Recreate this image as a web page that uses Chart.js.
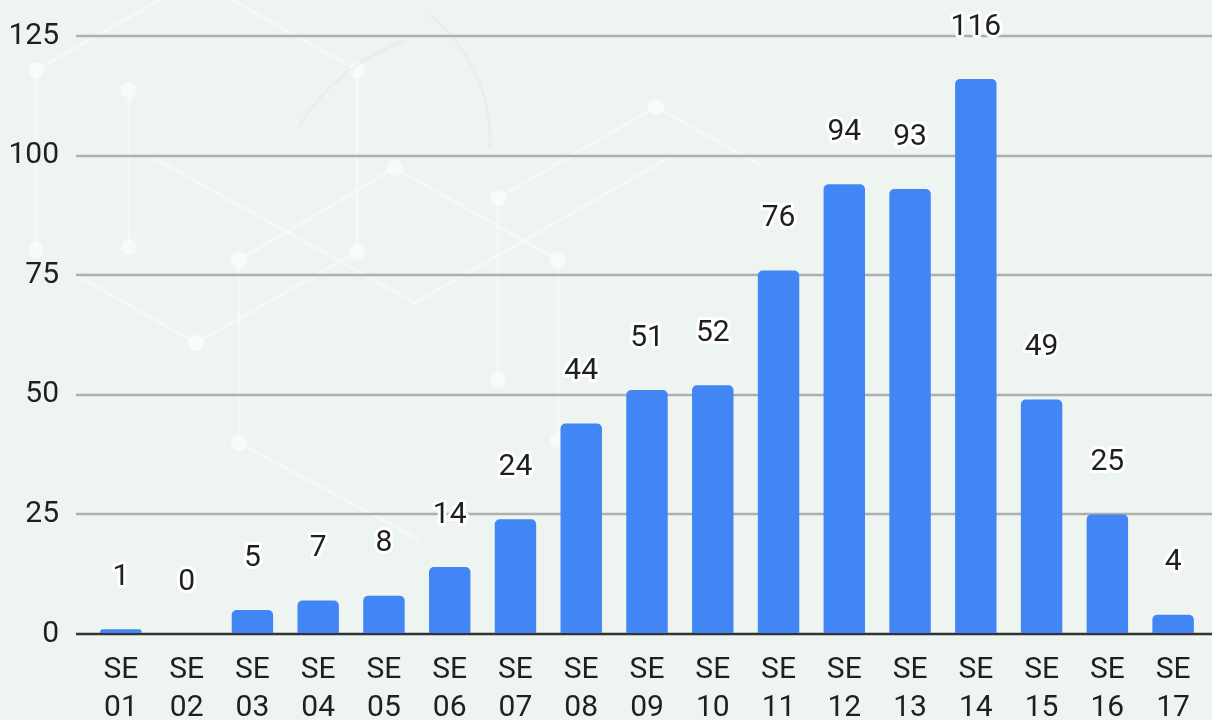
<!DOCTYPE html>
<html>
<head>
<meta charset="utf-8">
<script src="https://cdn.jsdelivr.net/npm/chart.js@4.4.1/dist/chart.umd.min.js"></script>
<style>
html,body{margin:0;padding:0;background:#eef5f1;}
#wrap{width:1212px;height:720px;position:relative;}
</style>
</head>
<body>
<div id="wrap"><canvas id="c" width="1212" height="720"></canvas></div>
<script>
const categories = ['SE 01','SE 02','SE 03','SE 04','SE 05','SE 06','SE 07','SE 08','SE 09','SE 10','SE 11','SE 12','SE 13','SE 14','SE 15','SE 16','SE 17'];
const values = [1,0,5,7,8,14,24,44,51,52,76,94,93,116,49,25,4];
const yTicks = [0,25,50,75,100,125];

// faint decorative network pattern of the background (not data)
const decoDots = [[36,70],[129,90],[357,70],[36,250],[129,247],[239,260],[357,252],[395,168],[196,343],[498,198],[558,260],[656,107],[498,380],[239,443],[558,440]];
const decoLines = [[36,70,160,0],[36,70,36,250],[357,70,357,252],[239,260,239,443],[395,168,239,260],[395,168,558,260],[498,198,656,107],[656,107,760,165],[498,198,498,380],[558,260,558,440],[196,343,357,252],[196,343,76,275],[232,0,357,70],[152,157,415,303],[415,303,670,157],[129,90,129,247],[239,443,420,540]];

const bgPlugin = {
  id:'bgPlugin',
  beforeDraw(chart){
    const ctx = chart.ctx;
    ctx.save();
    ctx.fillStyle = '#eef5f1';
    ctx.fillRect(0,0,chart.width,chart.height);
    ctx.strokeStyle = 'rgba(255,255,255,0.4)';
    ctx.lineWidth = 3;
    decoLines.forEach(l=>{ctx.beginPath();ctx.moveTo(l[0],l[1]);ctx.lineTo(l[2],l[3]);ctx.stroke();});
    ctx.fillStyle = 'rgba(255,255,255,0.55)';
    decoDots.forEach(d=>{ctx.beginPath();ctx.arc(d[0],d[1],8,0,Math.PI*2);ctx.fill();});
    ctx.strokeStyle = 'rgba(230,205,215,0.2)';
    ctx.lineWidth = 3;
    ctx.beginPath(); ctx.arc(470,230,200,-2.6,-1.9); ctx.stroke();
    ctx.beginPath(); ctx.arc(330,140,160,-0.9,0.05); ctx.stroke();
    ctx.restore();
  }
};

const gridPlugin = {
  id:'gridPlugin',
  beforeDatasetsDraw(chart){
    const ctx = chart.ctx, y = chart.scales.y;
    ctx.save();
    yTicks.forEach(t=>{
      const py = Math.round(y.getPixelForValue(t));
      ctx.beginPath();
      ctx.moveTo(76, py); ctx.lineTo(chart.width, py);
      ctx.lineWidth = 2.5;
      ctx.strokeStyle = t===0 ? '#333333' : '#adb0af';
      ctx.stroke();
    });
    ctx.restore();
  },
  afterDatasetsDraw(chart){
    const ctx = chart.ctx, y = chart.scales.y;
    const py = Math.round(y.getPixelForValue(0));
    ctx.save();
    ctx.beginPath(); ctx.moveTo(76, py); ctx.lineTo(chart.width, py);
    ctx.lineWidth = 2; ctx.strokeStyle = '#333333'; ctx.stroke();
    const meta = chart.getDatasetMeta(0);
    ctx.font = '30px Roboto';
    ctx.textAlign = 'center'; ctx.textBaseline = 'middle';
    ctx.lineJoin = 'round';
    meta.data.forEach((bar,i)=>{
      const tx = bar.x, ty = bar.y - 52;
      const s = String(values[i]);
      ctx.lineWidth = 6; ctx.strokeStyle = '#ffffff';
      ctx.strokeText(s, tx, ty);
      ctx.fillStyle = '#1f1f1f';
      ctx.fillText(s, tx, ty);
    });
    ctx.restore();
  }
};

new Chart(document.getElementById('c'), {
  type:'bar',
  data:{
    labels: categories.map(c=>c.split(' ')),
    datasets:[{
      data: values,
      backgroundColor:'#4285F4',
      borderRadius:5,
      borderSkipped:'bottom',
      barPercentage:0.63,
      categoryPercentage:1.0
    }]
  },
  options:{
    responsive:false,
    animation:false,
    devicePixelRatio:1,
    layout:{padding:{top:36,right:6,left:0,bottom:0}},
    plugins:{legend:{display:false},tooltip:{enabled:false}},
    scales:{
      x:{
        grid:{display:false},
        border:{display:false},
        ticks:{color:'#1f1f1f',font:{family:'Roboto',size:30,lineHeight:1.27},padding:9,maxRotation:0,autoSkip:false},
        afterFit(s){ s.height = 86; s.paddingLeft = 0; s.paddingRight = 0; }
      },
      y:{
        min:0,max:125,
        grid:{display:false},
        border:{display:false},
        ticks:{stepSize:25,color:'#1f1f1f',font:{family:'Roboto',size:30},padding:21},
        afterFit(s){ s.width = 88; s.paddingTop = 0; s.paddingBottom = 0; }
      }
    }
  },
  plugins:[bgPlugin,gridPlugin]
});
</script>
</body>
</html>
